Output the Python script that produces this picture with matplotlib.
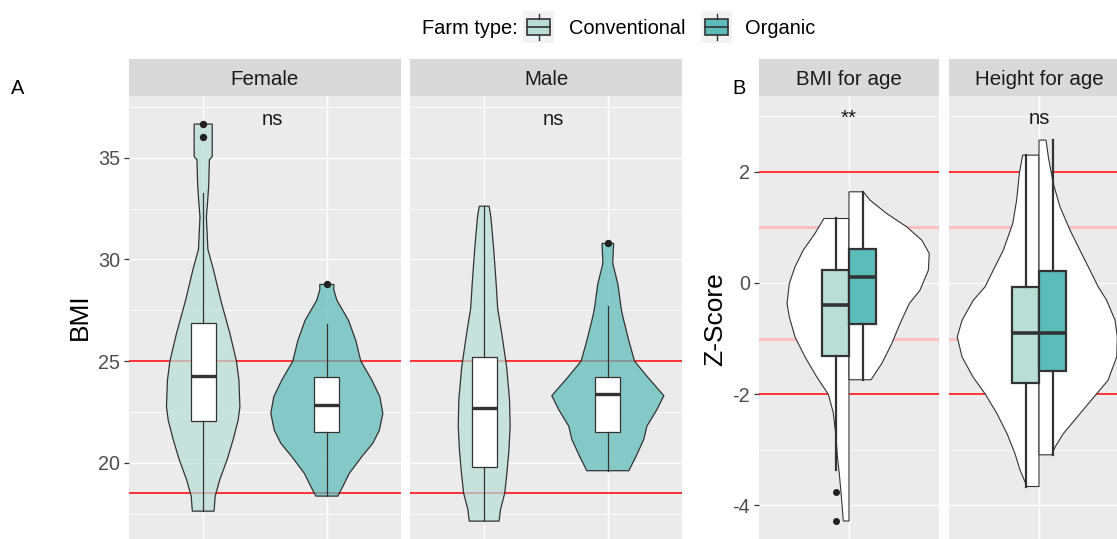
import numpy as np
import matplotlib
matplotlib.use("Agg")
from matplotlib import pyplot as plt
from matplotlib.colors import to_rgba
from matplotlib.patches import Polygon, Rectangle

plt.rcParams["font.family"] = ["Liberation Sans", "DejaVu Sans"]
plt.rcParams["axes.unicode_minus"] = False

W, H = 1117, 539

FARM_TYPES = ["Conventional", "Organic"]
FARM_COLORS = ["#B9DED6", "#5CBCBA"]
SEXES = ["Female", "Male"]
ZSCORES = ["BMI for age", "Height for age"]

# box summaries for BMI: Female conv, Female org, Male conv, Male org
bmi_q1 = [22.07, 21.51, 19.80, 21.50]
bmi_med = [24.25, 22.82, 22.67, 23.37]
bmi_q3 = [26.86, 24.23, 25.18, 24.23]
bmi_lo = [17.62, 18.36, 17.13, 19.61]
bmi_hi = [33.25, 26.82, 32.62, 27.70]
bmi_out = [[36.66, 36.02], [28.77], [], [30.79]]
bmi_tests = ["ns", "ns"]

# box summaries for z-scores: BMI-for-age conv, org, Height-for-age conv, org
z_q1 = [-1.32, -0.74, -1.79, -1.58]
z_med = [-0.40, 0.11, -0.90, -0.90]
z_q3 = [0.23, 0.62, -0.07, 0.22]
z_lo = [-3.36, -1.74, -3.66, -3.09]
z_hi = [1.16, 1.64, 2.30, 2.58]
z_out = [[-3.75, -4.28], [], [], []]
z_tests = ["**", "ns"]

# violin outlines: level and half width (x units)
f_conv_lvl = [36.66, 35.06, 34.9, 33.67, 32.69, 32.1, 30.5, 29.5, 28.0, 26.36,
              25.0, 24.07, 22.76, 22.1, 21.15, 20.16, 19.18, 18.36, 17.62]
f_conv_hw = [0.073, 0.073, 0.050, 0.045, 0.034, 0.026, 0.038, 0.083, 0.142, 0.216,
             0.269, 0.289, 0.297, 0.283, 0.243, 0.194, 0.135, 0.097, 0.088]
f_org_lvl = [28.77, 28.5, 28.0, 27.0, 26.0, 25.0, 24.07, 23.25, 22.43, 21.6,
             20.96, 20.3, 19.48, 18.83, 18.36]
f_org_hw = [0.057, 0.057, 0.081, 0.176, 0.235, 0.275, 0.364, 0.429, 0.453, 0.425,
            0.372, 0.283, 0.182, 0.129, 0.089]
m_conv_lvl = [32.62, 32.1, 30.5, 28.8, 27.6, 26.36, 24.7, 23.1, 21.8, 20.6,
              19.5, 18.5, 17.7, 17.13]
m_conv_hw = [0.040, 0.054, 0.077, 0.097, 0.109, 0.142, 0.182, 0.205, 0.210, 0.200,
             0.184, 0.166, 0.132, 0.121]
m_org_lvl = [30.79, 29.8, 28.8, 27.6, 27.2, 26.0, 25.0, 24.2, 23.3, 22.6,
             21.8, 21.15, 20.3, 19.61]
m_org_hw = [0.047, 0.040, 0.081, 0.108, 0.121, 0.170, 0.216, 0.324, 0.453, 0.396,
            0.316, 0.291, 0.227, 0.170]

bfa_conv_lvl = [1.16, 0.89, 0.59, 0.29, -0.01, -0.37, -0.61, -0.97, -1.33, -1.69,
                -2.0, -2.33, -2.75, -3.1, -3.42, -3.9, -4.28]
bfa_conv_hw = [0.167, 0.227, 0.305, 0.36, 0.398, 0.413, 0.398, 0.36, 0.293, 0.215,
               0.138, 0.105, 0.087, 0.078, 0.065, 0.049, 0.038]
bfa_org_lvl = [1.64, 1.49, 1.25, 1.01, 0.77, 0.53, 0.23, -0.13, -0.37, -0.73,
               -1.09, -1.45, -1.74]
bfa_org_hw = [0.095, 0.14, 0.251, 0.385, 0.485, 0.535, 0.529, 0.473, 0.402, 0.34,
              0.285, 0.218, 0.147]
hfa_conv_lvl = [2.30, 1.97, 1.49, 1.07, 0.59, 0.23, -0.07, -0.31, -0.67, -0.97,
                -1.33, -1.69, -1.99, -2.35, -2.71, -3.07, -3.36, -3.66]
hfa_conv_hw = [0.109, 0.131, 0.149, 0.175, 0.238, 0.305, 0.36, 0.438, 0.513, 0.545,
               0.513, 0.44, 0.36, 0.28, 0.213, 0.16, 0.127, 0.08]
hfa_org_lvl = [2.57, 2.27, 1.79, 1.37, 0.95, 0.59, 0.23, -0.07, -0.31, -0.67,
               -0.97, -1.33, -1.51, -1.75, -1.99, -2.35, -2.71, -2.95, -3.09]
hfa_org_hw = [0.047, 0.062, 0.095, 0.14, 0.207, 0.273, 0.34, 0.395, 0.451, 0.507,
              0.522, 0.518, 0.493, 0.46, 0.385, 0.273, 0.162, 0.107, 0.085]

EDGE = "#333333"


def px_rect(x0, y0, x1, y1):
    return [x0 / W, 1 - y1 / H, (x1 - x0) / W, (y1 - y0) / H]


def violin(ax, pos, levels, half, color, alpha=1.0, side="both", lw=0.9):
    lv = np.asarray(levels)
    hw = np.asarray(half)
    if side == "both":
        xs = np.r_[pos + hw, (pos - hw)[::-1]]
        ys = np.r_[lv, lv[::-1]]
    elif side == "left":
        xs = np.r_[pos - hw, pos, pos]
        ys = np.r_[lv, lv[-1], lv[0]]
    else:
        xs = np.r_[pos + hw, pos, pos]
        ys = np.r_[lv, lv[-1], lv[0]]
    ax.add_patch(Polygon(np.c_[xs, ys], closed=True, fc=to_rgba(color, alpha),
                         ec=EDGE, lw=lw, zorder=2))


def boxes(ax, idx, q1, med, q3, lo, hi, out, positions, width, colors, lw, mlw, ms):
    stats = [dict(q1=q1[i], med=med[i], q3=q3[i], whislo=lo[i], whishi=hi[i],
                  fliers=out[i]) for i in idx]
    art = ax.bxp(stats, positions=positions, widths=width, patch_artist=True,
                 showcaps=False, manage_ticks=False, zorder=3,
                 boxprops=dict(edgecolor=EDGE, linewidth=lw),
                 whiskerprops=dict(color=EDGE, linewidth=lw),
                 medianprops=dict(color=EDGE, linewidth=mlw, solid_capstyle="butt"),
                 flierprops=dict(marker="o", markersize=ms, markerfacecolor="#222222",
                                 markeredgecolor="#222222"))
    for patch, c in zip(art["boxes"], colors):
        patch.set_facecolor(c)


def panel(ax, ylim, major, minor, xlim, xgrid, show_y):
    ax.set_facecolor("#EBEBEB")
    ax.set_xlim(*xlim)
    ax.set_ylim(*ylim)
    ax.set_yticks(major)
    ax.set_yticks(minor, minor=True)
    ax.set_xticks(xgrid)
    ax.set_axisbelow(True)
    ax.grid(which="major", color="white", lw=1.0)
    ax.grid(which="minor", axis="y", color="white", lw=0.6)
    for s in ax.spines.values():
        s.set_visible(False)
    ax.tick_params(axis="x", length=0, labelbottom=False)
    ax.tick_params(axis="y", which="minor", length=0)
    if show_y:
        ax.tick_params(axis="y", which="major", length=3.5, width=0.9, color=EDGE,
                       labelcolor="#4D4D4D", labelsize=14.2, pad=3)
    else:
        ax.tick_params(axis="y", which="major", length=0, labelleft=False)


def strip(fig, rect, label):
    sa = fig.add_axes(rect)
    sa.set_facecolor("#D9D9D9")
    sa.set_xticks([])
    sa.set_yticks([])
    for s in sa.spines.values():
        s.set_visible(False)
    sa.text(0.5, 0.45, label, ha="center", va="center", fontsize=14.8,
            color="#1A1A1A", transform=sa.transAxes)


fig = plt.figure(figsize=(W / 100, H / 100), dpi=100)
fig.patch.set_facecolor("white")

# panel A: adult BMI by sex
a_boxes = [(129, 401), (410, 682)]
bmi_violins = [[(f_conv_lvl, f_conv_hw), (f_org_lvl, f_org_hw)],
               [(m_conv_lvl, m_conv_hw), (m_org_lvl, m_org_hw)]]
for k, (x0, x1) in enumerate(a_boxes):
    ax = fig.add_axes(px_rect(x0, 96, x1, 539))
    panel(ax, (16.25, 38.04), [20, 25, 30, 35], [17.5, 22.5, 27.5, 32.5, 37.5],
          (0.4, 2.6), [1, 2], k == 0)
    strip(fig, px_rect(x0, 59, x1, 96), SEXES[k])
    ax.axhline(25, color="red", lw=1.1, zorder=1)
    ax.axhline(18.5, color="red", lw=1.1, zorder=1)
    for j, (lvl, hw) in enumerate(bmi_violins[k]):
        violin(ax, j + 1, lvl, hw, FARM_COLORS[j], alpha=0.72)
    boxes(ax, [2 * k, 2 * k + 1], bmi_q1, bmi_med, bmi_q3, bmi_lo, bmi_hi, bmi_out,
          [1, 2], 0.2, ["white", "white"], 0.9, 2.4, 4.3)
    ax.text(1.56, 36.9, bmi_tests[k], ha="center", va="center", fontsize=14.6,
            color="#1A1A1A")

# panel B: z-scores with split half violins
b_boxes = [(759, 939), (949, 1129)]
z_violins = [[(bfa_conv_lvl, bfa_conv_hw), (bfa_org_lvl, bfa_org_hw)],
             [(hfa_conv_lvl, hfa_conv_hw), (hfa_org_lvl, hfa_org_hw)]]
for k, (x0, x1) in enumerate(b_boxes):
    ax = fig.add_axes(px_rect(x0, 96, x1, 539))
    panel(ax, (-4.604, 3.363), [-4, -2, 0, 2], [-3, -1, 1, 3], (0.4, 1.6), [1], k == 0)
    strip(fig, px_rect(x0, 59, x1, 96), ZSCORES[k])
    for v in (-2, 2):
        ax.axhline(v, color="red", lw=1.1, zorder=1)
    for v in (-1, 1):
        ax.axhline(v, color="#F9C0C0", lw=2.2, zorder=1)
    (cl, cw), (ol, ow) = z_violins[k]
    violin(ax, 1, cl, cw, "white", side="left", lw=0.8)
    violin(ax, 1, ol, ow, "white", side="right", lw=0.8)
    boxes(ax, [2 * k, 2 * k + 1], z_q1, z_med, z_q3, z_lo, z_hi, z_out,
          [0.91, 1.09], 0.18, FARM_COLORS, 1.6, 2.6, 4.0)
    ax.text(1, 2.96, z_tests[k], ha="center", va="center", fontsize=14.6,
            color="#1A1A1A")

# axis titles and panel letters
fig.text(80 / W, 1 - 317 / H, "BMI", rotation=90, ha="center", va="center",
         fontsize=19)
fig.text(715 / W, 1 - 319 / H, "Z-Score", rotation=90, ha="center", va="center",
         fontsize=19)
fig.text(11 / W, 1 - 88 / H, "A", ha="left", va="center", fontsize=14.4)
fig.text(732 / W, 1 - 88 / H, "B", ha="left", va="center", fontsize=14.4)

# legend
fig.text(422 / W, 1 - 29 / H, "Farm type:", ha="left", va="center", fontsize=14.4)
key_pos = [(523, 569), (701, 745)]
for (kx, tx), name, color in zip(key_pos, FARM_TYPES, FARM_COLORS):
    ka = fig.add_axes(px_rect(kx, 11, kx + 31, 43))
    ka.set_facecolor("#F2F2F2")
    ka.set_xlim(0, 1)
    ka.set_ylim(0, 1)
    ka.set_xticks([])
    ka.set_yticks([])
    for s in ka.spines.values():
        s.set_visible(False)
    ka.plot([0.5, 0.5], [0.1, 0.25], color=EDGE, lw=1.0)
    ka.plot([0.5, 0.5], [0.75, 0.9], color=EDGE, lw=1.0)
    ka.add_patch(Rectangle((0.125, 0.25), 0.75, 0.5, fc=color, ec=EDGE, lw=1.2))
    ka.plot([0.125, 0.875], [0.5, 0.5], color=EDGE, lw=1.2)
    fig.text(tx / W, 1 - 29 / H, name, ha="left", va="center", fontsize=14.4)

fig.savefig("out.png", dpi=100)
